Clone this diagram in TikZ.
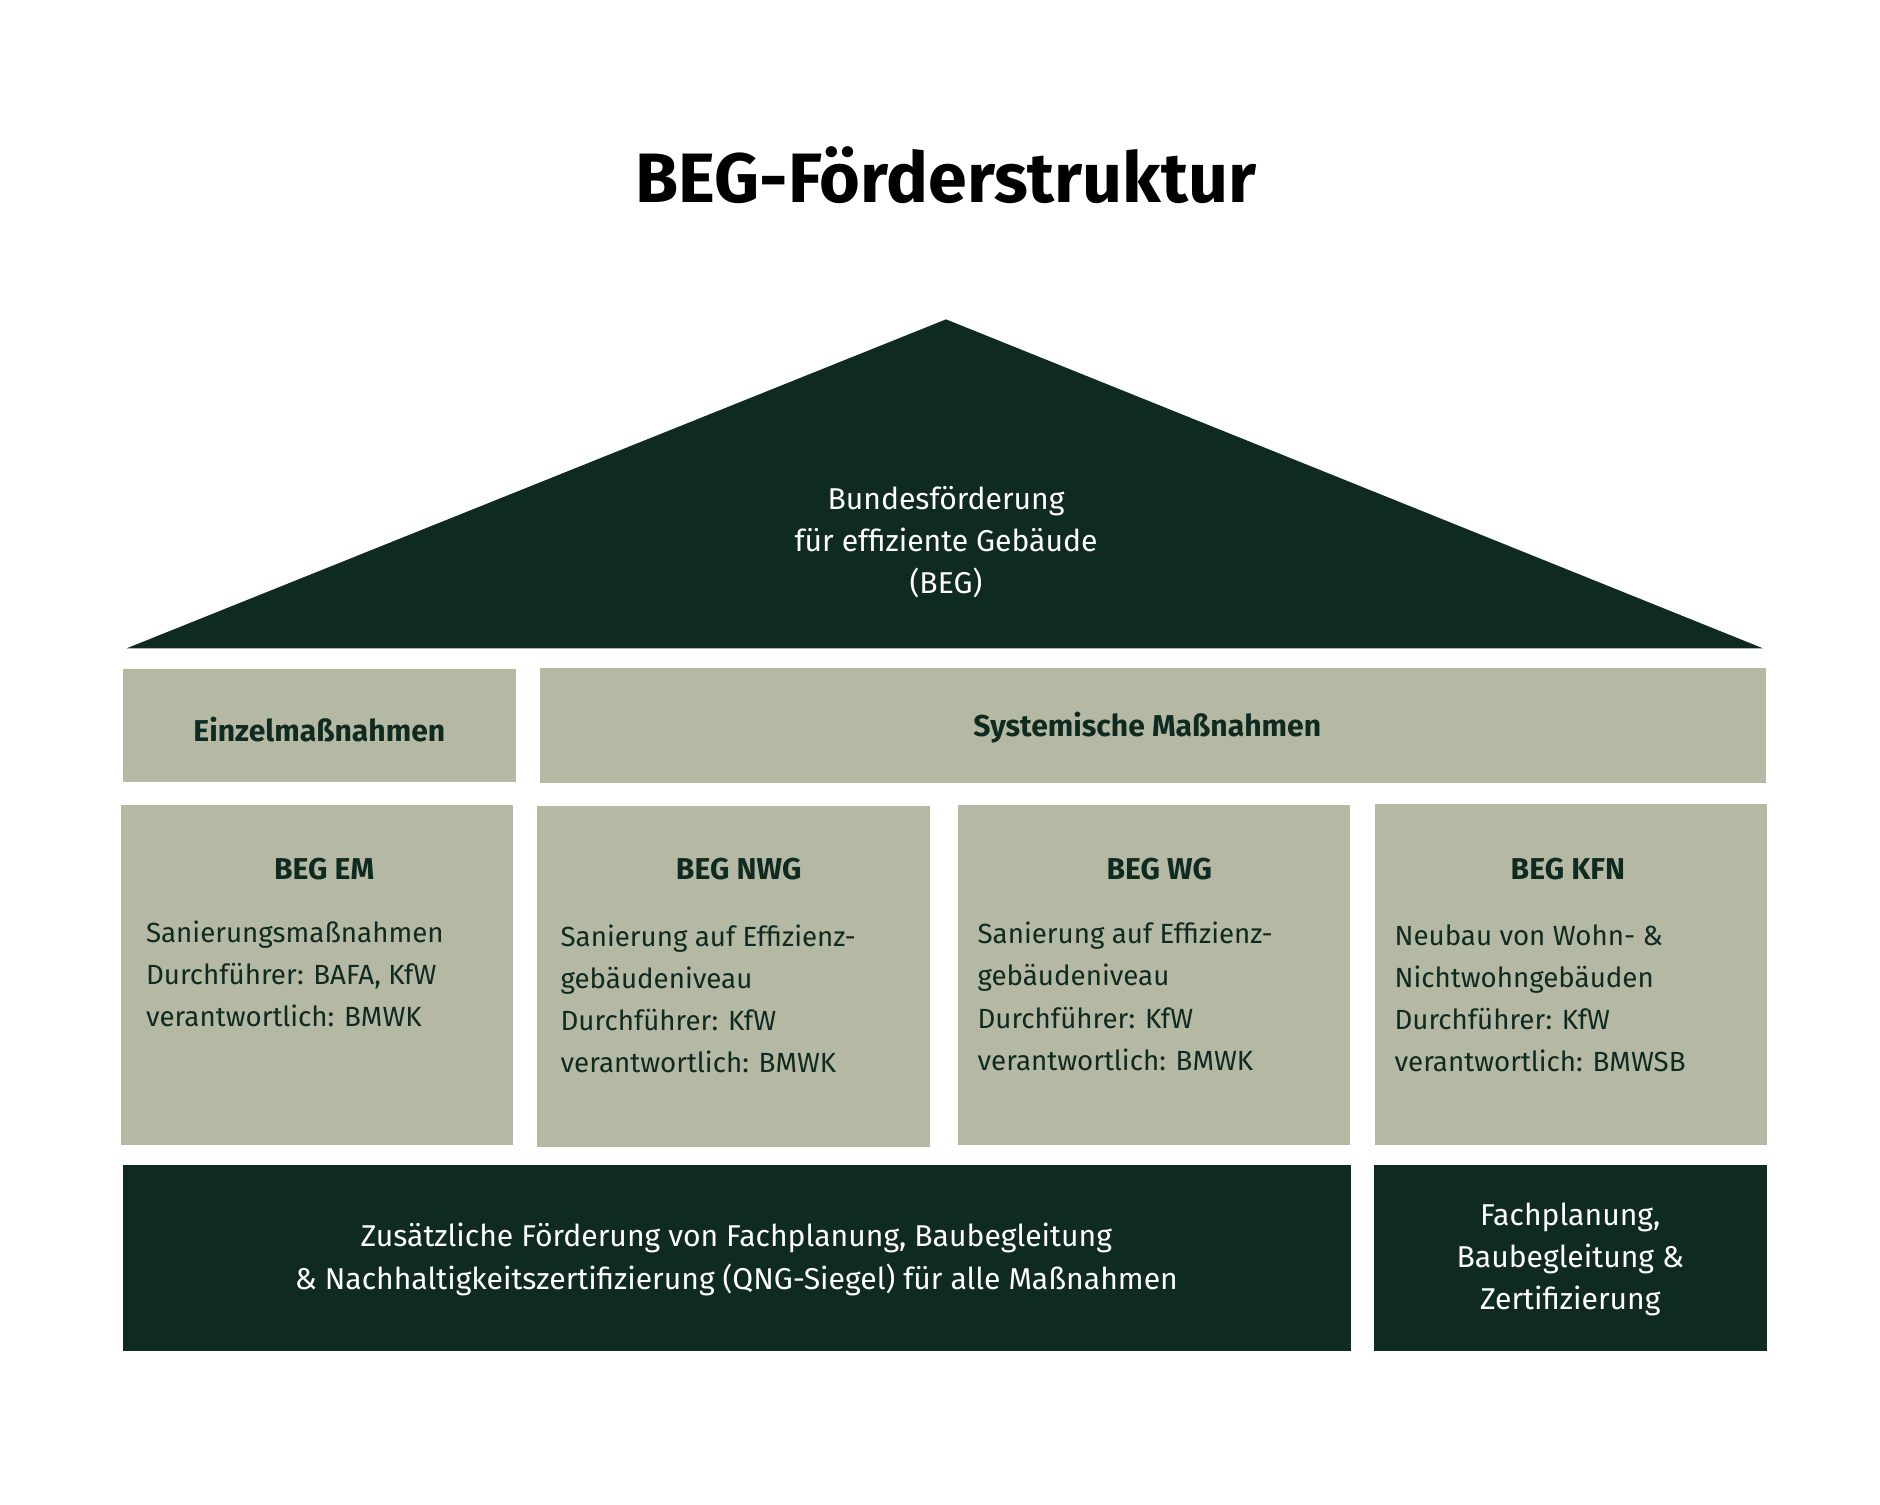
\documentclass[tikz,border=0pt]{standalone}
\usepackage{fontspec}
\setmainfont{Fira Sans}
\definecolor{dk}{HTML}{0F2A20}
\definecolor{sg}{HTML}{B5B9A3}
\begin{document}
\begin{tikzpicture}[x=1pt,y=-1pt,
  sbox/.style={fill=sg,draw=none},
  dbox/.style={fill=dk,draw=none},
  ttl/.style={font=\fontsize{25}{30}\selectfont\bfseries,text=dk},
  body/.style={font=\fontsize{23}{35}\selectfont,text=dk,align=left,anchor=north west,inner sep=0pt},
  wt/.style={font=\fontsize{25}{35}\selectfont,text=white,align=center}]
\useasboundingbox (0,0) rectangle (1560,1248);
\node[font=\fontsize{58}{60}\selectfont\bfseries] (title) at (785,145) {BEG-Förderstruktur};
\fill[dk] (785,265) -- (1463,538) -- (105,538) -- cycle;
\node[wt] (roof) at (785,450) {Bundesförderung\\für effiziente Gebäude\\(BEG)};
\fill[sbox] (102,555) rectangle (428,649);
\node[ttl] (ein) at (265,605) {Einzelmaßnahmen};
\fill[sbox] (448,554) rectangle (1465,650);
\node[ttl] (sys) at (952,604) {Systemische Maßnahmen};
\fill[sbox] (100,668) rectangle (426,950);
\fill[sbox] (446,669) rectangle (772,952);
\fill[sbox] (795,668) rectangle (1120,950);
\fill[sbox] (1141,667) rectangle (1466,950);
\node[ttl] (t1) at (269,721) {BEG EM};
\node[ttl] (t2) at (613,721) {BEG NWG};
\node[ttl] (t3) at (962,721) {BEG WG};
\node[ttl] (t4) at (1301,721) {BEG KFN};
\node[body] (b1) at (121,764) {Sanierungsmaßnahmen\\Durchführer: BAFA, KfW\\verantwortlich: BMWK};
\node[body] (b2) at (465,767) {Sanierung auf Effizienz-\\gebäudeniveau\\Durchführer: KfW\\verantwortlich: BMWK};
\node[body] (b3) at (811,765) {Sanierung auf Effizienz-\\gebäudeniveau\\Durchführer: KfW\\verantwortlich: BMWK};
\node[body] (b4) at (1157,767) {Neubau von Wohn- \&\\Nichtwohngebäuden\\Durchführer: KfW\\verantwortlich: BMWSB};
\fill[dbox] (102,967) rectangle (1121,1121);
\fill[dbox] (1140,967) rectangle (1466,1121);
\node[wt] (z1) at (611,1045) {Zusätzliche Förderung von Fachplanung, Baubegleitung\\\& Nachhaltigkeitszertifizierung (QNG-Siegel) für alle Maßnahmen};
\node[wt] (z2) at (1303,1045) {Fachplanung,\\Baubegleitung \&\\Zertifizierung};
\end{tikzpicture}
\end{document}
